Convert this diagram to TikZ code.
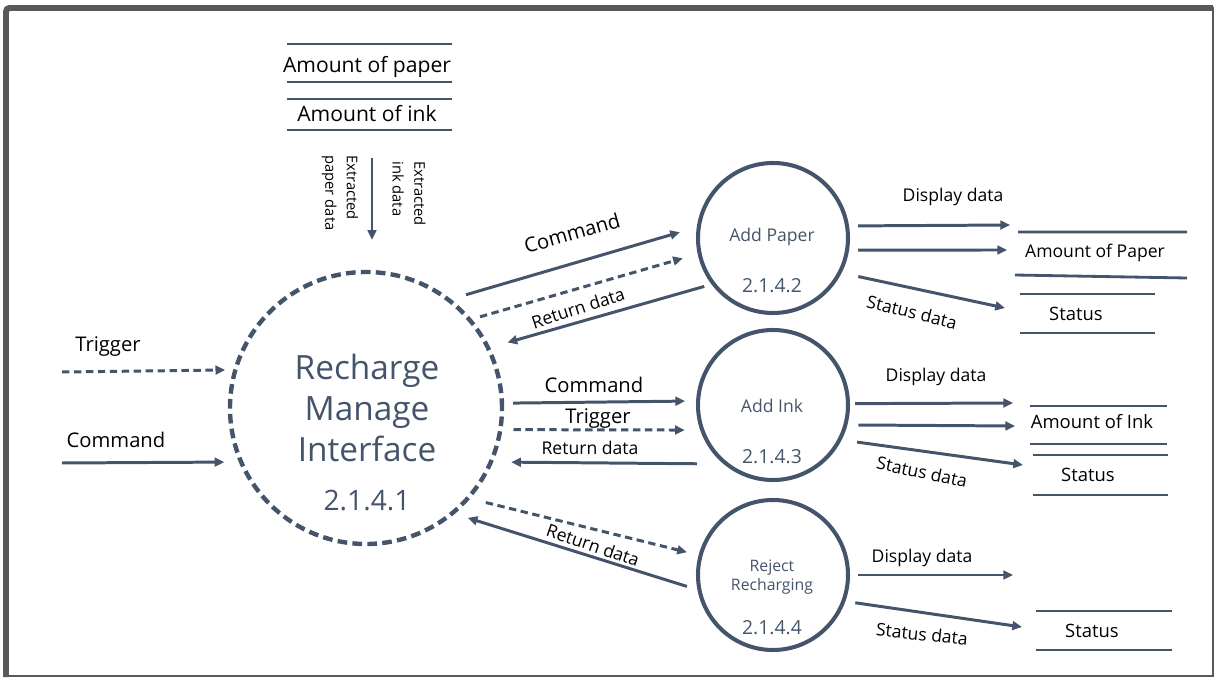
\documentclass[tikz,border=0pt]{standalone}
\usepackage{fontspec}
\setmainfont{Open Sans}
\usetikzlibrary{arrows.meta,positioning,calc}
\definecolor{linec}{HTML}{44546A}
\definecolor{framec}{HTML}{595959}

\begin{document}
\begin{tikzpicture}
    [x=0.2mm,y=-0.2mm,>={Triangle[length=5.5pt,width=5pt]},
     flow/.style={draw=linec,line width=1.7pt},
     trig/.style={flow,dash pattern=on 4.2pt off 2.6pt},
     store/.style={draw=linec,line width=1.6pt},
     proc/.style={circle,draw=linec,line width=2.3pt,minimum size=30mm,inner sep=0pt},
     lbl/.style={font=\fontsize{10}{12}\selectfont,inner sep=0pt,anchor=base},
     big/.style={lbl,font=\fontsize{11.5}{13}\selectfont},
     db/.style={lbl,font=\fontsize{10.5}{12}\selectfont},
     ptxt/.style={lbl,text=linec},
     pnum/.style={lbl,text=linec,font=\fontsize{11}{13}\selectfont},
     vtxt/.style={font=\fontsize{8.4}{12.3}\selectfont,rotate=-90,align=left,anchor=west,inner sep=0pt}]

    \useasboundingbox (0,0) rectangle (1215,678);

    % frame
    \draw[framec,line width=1.1pt] (6,8) rectangle (1213,676);
    \draw[framec,line width=3.4pt,rounded corners=2pt] (6,677) |- (1213,8);

    % processes
    \node[proc,minimum size=54.4mm,line width=2.5pt,dash pattern=on 5.5pt off 3pt] (recharge) at (366,408) {};
    \node[proc] (paper) at (773,238) {};
    \node[proc] (ink) at (773,405) {};
    \node[proc] (reject) at (773,575) {};

    \node[align=center,text=linec,font=\fontsize{19}{23.4}\selectfont,inner sep=0pt] (rm-txt) at (367,408) {Recharge\\Manage\\Interface};
    \node[pnum,font=\fontsize{16}{18}\selectfont] (rm-num) at (367,510) {2.1.4.1};
    \node[ptxt] (paper-txt) at (772,242) {Add Paper};
    \node[pnum] (paper-num) at (772,293) {2.1.4.2};
    \node[ptxt] (ink-txt) at (772,412) {Add Ink};
    \node[pnum] (ink-num) at (772,463) {2.1.4.3};
    \node[ptxt,anchor=center,align=center,font=\fontsize{9}{10.8}\selectfont] (reject-txt) at (772,577) {Reject\\Recharging};
    \node[pnum] (reject-num) at (772,634) {2.1.4.4};

    % data stores (top)
    \node[lbl,font=\fontsize{12}{14}\selectfont] (paperdb) at (367,73) {Amount of paper};
    \draw[store] (287,44) -- (452,44) (287,82) -- (452,82);
    \node[lbl,font=\fontsize{12}{14}\selectfont] (inkdb) at (367,122) {Amount of ink};
    \draw[store] (287,99) -- (452,99) (287,130) -- (452,130);

    \coordinate (xtr) at (372,158);
    \draw[flow,->,shorten >=6mm] (xtr) -- (xtr |- recharge.north);
    \node[vtxt] (xpaper) at (340,155) {Extracted\\paper data};
    \node[vtxt] (xink) at (409,161) {Extracted\\ink data};

    % inputs
    \coordinate (trigsrc) at (62,372);
    \coordinate (cmdsrc) at (62,463);
    \draw[trig,->,shorten >=1.6mm] (trigsrc) -- (recharge.164.9);
    \draw[flow,->,shorten >=2.9mm] (cmdsrc) -- (recharge.203.5);
    \node[big] (trig-l) at (108,352) {Trigger};
    \node[big] (cmd-l) at (116,447) {Command};

    % recharge <-> add paper
    \draw[flow,->,shorten <=3.1mm,shorten >=3.5mm] (recharge.52) -- (paper.172.7);
    \draw[trig,->,shorten <=1.7mm,shorten >=3.1mm] (recharge.40) -- (paper.192.6);
    \draw[flow,->,shorten <=1.5mm,shorten >=3.6mm] (paper.217.6) -- (recharge.26.3);
    \node[big,rotate=16,anchor=center] (cmd-p) at (572,233) {Command};
    \node[lbl,rotate=18,anchor=center] (ret-p) at (578,308) {Return data};

    % recharge <-> add ink
    \draw[flow,->,shorten <=1.8mm,shorten >=2.2mm] (recharge.2.5) -- (ink.177.8);
    \draw[trig,->,shorten <=2.2mm,shorten >=3.1mm] (recharge.-9.6) -- (ink.199.8);
    \draw[flow,->,shorten <=5.3mm,shorten >=3.6mm] (ink.230) -- (recharge.-23.9);
    \node[big] (cmd-i) at (594,393) {Command};
    \node[big] (trig-i) at (598,423) {Trigger};
    \node[lbl] (ret-i) at (590,454) {Return data};

    % recharge <-> reject
    \draw[trig,->,shorten <=3.2mm,shorten >=2.4mm] (recharge.-41.4) -- (reject.165.6);
    \draw[flow,->,shorten <=2.2mm,shorten >=2.7mm] (reject.191.5) -- (recharge.-50.2);
    \node[lbl,rotate=-19,anchor=center] (ret-j) at (593,545) {Return data};

    % add paper outputs
    \coordinate (pdisp) at (1010,225);
    \coordinate (pamt) at (1007,250);
    \coordinate (pstat) at (1005,308);
    \draw[flow,->,shorten <=1.8mm] (paper.9.7) -- (pdisp);
    \draw[flow,->,shorten <=1.8mm] (paper.-9) -- (pamt);
    \draw[flow,->,shorten <=3.4mm] (paper.-27.4) -- (pstat);
    \node[lbl] (disp-p) at (953,202) {Display data};
    \node[lbl,rotate=-14,anchor=center] (stat-p) at (912,312) {Status data};
    \node[db,font=\fontsize{10}{12}\selectfont] (paperdb2) at (1095,258) {Amount of Paper};
    \draw[store] (1018,232) -- (1187,232) (1015,275) -- (1187,278);
    \node[db] (statdb-p) at (1076,320) {Status};
    \draw[store] (1020,294) -- (1155,294) (1020,333) -- (1155,333);

    % add ink outputs
    \coordinate (idisp) at (1013,403);
    \coordinate (iamt) at (1015,426);
    \coordinate (istat) at (1023,465);
    \draw[flow,->,shorten <=1mm] (ink.1.5) -- (idisp);
    \draw[flow,->,shorten <=2.2mm] (ink.-15.8) -- (iamt);
    \draw[flow,->,shorten <=3.1mm] (ink.-27) -- (istat);
    \node[lbl] (disp-i) at (936,382) {Display data};
    \node[lbl,rotate=-12,anchor=center] (stat-i) at (922,472) {Status data};
    \node[db] (inkdb2) at (1092,428) {Amount of Ink};
    \draw[store] (1030,406) -- (1167,406) (1030,444) -- (1167,444);
    \node[db] (statdb-i) at (1088,481) {Status};
    \draw[store] (1033,455) -- (1168,455) (1033,495) -- (1168,495);

    % reject outputs
    \coordinate (jdisp) at (1013,575);
    \coordinate (jstat) at (1022,627);
    \draw[flow,->,shorten <=1.6mm] (reject.0) -- (jdisp);
    \draw[flow,->,shorten <=2mm] (reject.-20.2) -- (jstat);
    \node[lbl] (disp-j) at (922,562) {Display data};
    \node[lbl,rotate=-6,anchor=center] (stat-j) at (922,634) {Status data};
    \node[db] (statdb-j) at (1092,637) {Status};
    \draw[store] (1036,611) -- (1172,611) (1036,650) -- (1172,650);

\end{tikzpicture}
\end{document}
